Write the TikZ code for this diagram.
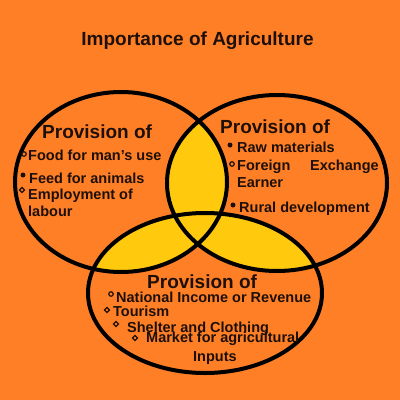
\documentclass[tikz,border=0pt]{standalone}
\usepackage{fontspec}
\setmainfont{Liberation Sans}
\usetikzlibrary{shapes.geometric}
\definecolor{bgorange}{RGB}{255,127,39}
\definecolor{lensyellow}{RGB}{255,201,14}
\definecolor{ink}{RGB}{30,16,8}
\begin{document}
\begin{tikzpicture}[x=1pt,y=-1pt,
  big/.style={font=\fontsize{19}{22}\selectfont\bfseries, text=ink, inner sep=0pt, anchor=west, text height=13.6pt, text depth=0pt},
  item/.style={font=\fontsize{14.5}{17}\selectfont\bfseries, text=ink, inner sep=0pt, anchor=west, text height=10.4pt, text depth=0pt},
  ring/.style={line width=4pt, draw=black},
  dotb/.style={circle, fill=ink, inner sep=0pt, minimum size=5pt},
  openb/.style={circle, draw=ink, line width=1.2pt, inner sep=0pt, minimum size=4.5pt},
  diab/.style={diamond, draw=ink, line width=1.1pt, inner sep=0pt, minimum size=5.5pt}]
\useasboundingbox (0,0) rectangle (400,400);
\fill[bgorange] (0,0) rectangle (400,400);
% yellow overlaps
\begin{scope}
  \clip (121,182) ellipse [x radius=106pt, y radius=90pt];
  \fill[lensyellow] (277,183) ellipse [x radius=110pt, y radius=88pt];
  \fill[lensyellow] (205,293) ellipse [x radius=117pt, y radius=80pt];
\end{scope}
\begin{scope}
  \clip (277,183) ellipse [x radius=110pt, y radius=88pt];
  \fill[lensyellow] (205,293) ellipse [x radius=117pt, y radius=80pt];
\end{scope}
% rings
\draw[ring] (121,182) ellipse [x radius=106pt, y radius=90pt];
\draw[ring] (277,183) ellipse [x radius=110pt, y radius=88pt];
\draw[ring] (205,293) ellipse [x radius=117pt, y radius=80pt];
% title
\node[big, anchor=center] (title) at (197.5,39) {Importance of Agriculture};
% left circle
\node[big] (lhead) at (42,132) {Provision of};
\node[openb] (lb1) at (24,154) {};
\node[item] (l1) at (28,155) {Food for man’s use};
\node[dotb] (lb2) at (23,175) {};
\node[item] (l2) at (29,178) {Feed for animals};
\node[diab] (lb3) at (22,190) {};
\node[item] (l3) at (28,194) {Employment of};
\node[item] (l3b) at (28,211) {labour};
% right circle
\node[big] (rhead) at (220,127) {Provision of};
\node[dotb] (rb1) at (230,145) {};
\node[item] (r1) at (237,147) {Raw materials};
\node[openb] (rb2) at (232,164) {};
\node[item] (r2a) at (237,165) {Foreign};
\node[item] (r2b) at (310,165) {Exchange};
\node[item] (r2c) at (237,182) {Earner};
\node[dotb] (rb3) at (233,205) {};
\node[item] (r3) at (239,207) {Rural development};
% bottom circle
\node[big] (bhead) at (147,282) {Provision of};
\node[openb] (bb1) at (111,294) {};
\node[item] (b1) at (116,297) {National Income or Revenue};
\node[diab] (bb2) at (107,310) {};
\node[item] (b2) at (113,311) {Tourism};
\node[diab] (bb3) at (116,324) {};
\node[item] (b3) at (127,327) {Shelter and Clothing};
\node[diab] (bb4) at (135,338) {};
\node[item] (b4) at (146,337) {Market for agricultural};
\node[item] (b4b) at (193,356) {Inputs};
\end{tikzpicture}
\end{document}
